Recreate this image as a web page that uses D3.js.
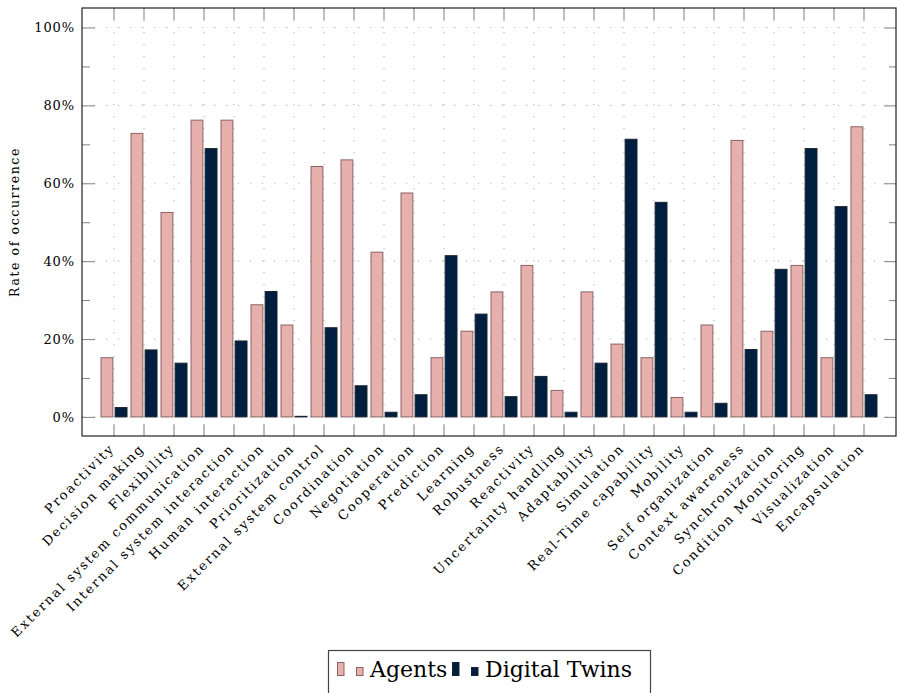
<!DOCTYPE html>
<html><head><meta charset="utf-8">
<script src="https://cdn.jsdelivr.net/npm/d3@7"></script>
<style>
body{margin:0;background:#fff}
svg{display:block}
text{font-family:"DejaVu Serif",serif;fill:#000}
</style>
</head><body>
<svg id="chart" width="897" height="693"></svg>
<script>
const categories = ["Proactivity","Decision making","Flexibility","External system communication","Internal system interaction","Human interaction","Prioritization","External system control","Coordination","Negotiation","Cooperation","Prediction","Learning","Robustness","Reactivity","Uncertainty handling","Adaptability","Simulation","Real-Time capability","Mobility","Self organization","Context awareness","Synchronization","Condition Monitoring","Visualization","Encapsulation"];
const agents = [15.2,72.8,52.5,76.2,76.2,28.8,23.6,64.3,66.0,42.3,57.5,15.2,22.0,32.1,38.9,6.8,32.1,18.7,15.2,5.0,23.6,71.0,22.0,38.9,15.2,74.5];
const digitalTwins = [2.4,17.2,13.8,68.9,19.5,32.2,0,22.9,8.0,1.2,5.7,41.4,26.4,5.2,10.4,1.2,13.8,71.3,55.1,1.2,3.5,17.3,37.9,68.9,54.0,5.7];
const seriesNames = ["Agents","Digital Twins"];
const seriesFill = ["#e8b0ac","#001f3f"];
const seriesStroke = ["#8a6464","#1b2230"];
const yMajorTicks = [0,20,40,60,80,100];
const yMinorTicks = [10,30,50,70,90];

const svg = d3.select("#chart");
const L = 82, R = 896, T = 8, B = 436;

const x = d3.scaleBand().domain(categories).range([L, R]).paddingInner(0).paddingOuter(0.567);
const xs = d3.scaleBand().domain(seriesNames).range([-13, 13]).paddingInner(0.16);
const y = d3.scaleLinear().domain([-4.9, 105]).range([B, T]);
const cx = c => x(c) + x.bandwidth() / 2;

// grid
const grid = svg.append("g").attr("stroke", "#b8b8b8").attr("stroke-width", 1.1).attr("stroke-dasharray", "1.2 10.8");
grid.selectAll("line.v").data(categories).join("line")
  .attr("x1", d => cx(d)).attr("x2", d => cx(d)).attr("y1", T).attr("y2", B);
grid.selectAll("line.h").data(yMajorTicks).join("line")
  .attr("x1", L).attr("x2", R).attr("y1", d => y(d)).attr("y2", d => y(d));

// bars
const data = categories.map((c, i) => ({c, vals: [agents[i], digitalTwins[i]]}));
const groups = svg.append("g").selectAll("g").data(data).join("g")
  .attr("transform", d => `translate(${cx(d.c)},0)`);
groups.selectAll("rect").data(d => d.vals.map((v, k) => ({v, k}))).join("rect")
  .attr("x", d => xs(seriesNames[d.k]))
  .attr("width", xs.bandwidth())
  .attr("y", d => Math.min(y(d.v), y(0) - 0.6))
  .attr("height", d => Math.max(0.6, y(0) - y(d.v)))
  .attr("fill", d => seriesFill[d.k])
  .attr("stroke", d => seriesStroke[d.k])
  .attr("stroke-width", 1);

// axes
function styleAxis(g) {
  g.select(".domain").remove();
  g.selectAll(".tick line").attr("stroke", "#8c8c8c").attr("stroke-width", 1.1);
}
svg.append("g").attr("transform", `translate(${L},0)`)
  .call(d3.axisLeft(y).tickValues(yMajorTicks).tickSize(-13).tickPadding(7).tickFormat(d => d + "%"))
  .call(styleAxis)
  .call(g => g.selectAll("text").attr("font-size", 13).attr("letter-spacing", 0.9).attr("font-family", "DejaVu Serif").attr("fill", "#000"));
svg.append("g").attr("transform", `translate(${L},0)`)
  .call(d3.axisLeft(y).tickValues(yMinorTicks).tickSize(-8).tickFormat(""))
  .call(styleAxis);
svg.append("g").attr("transform", `translate(${R},0)`)
  .call(d3.axisRight(y).tickValues(yMajorTicks).tickSize(-12).tickFormat(""))
  .call(styleAxis);
svg.append("g").attr("transform", `translate(${R},0)`)
  .call(d3.axisRight(y).tickValues(yMinorTicks).tickSize(-7).tickFormat(""))
  .call(styleAxis);
svg.append("g").attr("transform", `translate(0,${T})`)
  .call(d3.axisTop(x).tickSize(-12).tickFormat(""))
  .call(styleAxis);
svg.append("g").attr("transform", `translate(0,${B})`)
  .call(d3.axisBottom(x).tickSize(-12).tickFormat(""))
  .call(styleAxis);

// x labels
svg.append("g").selectAll("text").data(categories).join("text")
  .attr("transform", d => `translate(${cx(d) - 2},${B + 10}) rotate(-45)`)
  .attr("text-anchor", "end")
  .attr("dy", "0.35em")
  .attr("font-size", 13)
  .attr("letter-spacing", 1.9)
  .text(d => d);

// frame
svg.append("rect").attr("x", L).attr("y", T).attr("width", R - L).attr("height", B - T)
  .attr("fill", "none").attr("stroke", "#222").attr("stroke-width", 1.2);

// y label
svg.append("text").attr("transform", `translate(19,222) rotate(-90)`)
  .attr("text-anchor", "middle").attr("font-size", 12.5).attr("letter-spacing", 1.6)
  .text("Rate of occurrence");

// legend
const lg = svg.append("g");
lg.append("rect").attr("x", 328.5).attr("y", 650.5).attr("width", 322).attr("height", 60)
  .attr("fill", "#fff").attr("stroke", "#444").attr("stroke-width", 1.2);
const legX = [337, 452];
seriesNames.forEach((s, k) => {
  const g = lg.append("g").attr("transform", `translate(${legX[k]},0)`);
  g.append("rect").attr("x", 0.5).attr("y", 662.5).attr("width", 6.5).attr("height", 13)
    .attr("fill", seriesFill[k]).attr("stroke", seriesStroke[k]);
  g.append("rect").attr("x", 19.5).attr("y", 667.5).attr("width", 6.5).attr("height", 8)
    .attr("fill", seriesFill[k]).attr("stroke", seriesStroke[k]);
  g.append("text").attr("x", 33).attr("y", 677).attr("font-size", 22).text(s);
});
</script>
</body></html>
